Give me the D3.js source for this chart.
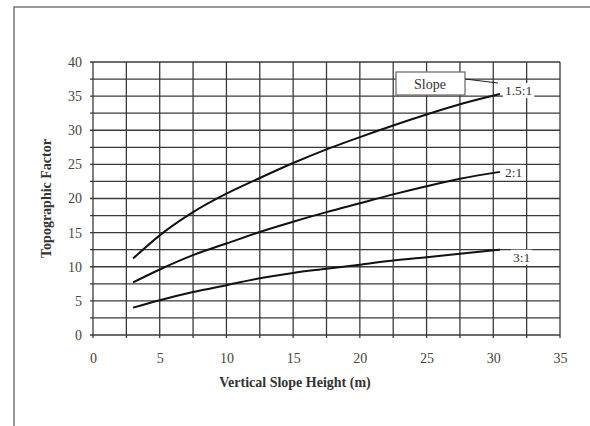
<!DOCTYPE html>
<html><head><meta charset="utf-8">
<script src="https://cdn.jsdelivr.net/npm/d3@7"></script>
<style>body{margin:0;background:#fff}svg{display:block}</style>
</head><body>
<script>
const heights = [3, 5, 7.5, 10, 12.5, 15, 17.5, 20, 22.5, 25, 27.5, 30.5];
const slope15 = [11.2, 14.6, 18.0, 20.7, 23.0, 25.2, 27.2, 29.0, 30.7, 32.3, 33.8, 35.3];
const slope2  = [7.7, 9.6, 11.7, 13.4, 15.1, 16.6, 18.0, 19.3, 20.6, 21.8, 22.9, 23.9];
const slope3  = [4.0, 5.1, 6.3, 7.3, 8.3, 9.1, 9.7, 10.3, 10.9, 11.4, 11.9, 12.5];
const seriesNames = ["1.5:1", "2:1", "3:1"];
const xTicks = [0, 5, 10, 15, 20, 25, 30, 35];
const yTicks = [0, 5, 10, 15, 20, 25, 30, 35, 40];

const W = 590, H = 426;
const svg = d3.select("body").append("svg").attr("width", W).attr("height", H);
const x = d3.scaleLinear().domain([0, 35]).range([93, 560]);
const y = d3.scaleLinear().domain([0, 40]).range([335, 62]);
const font = "'Liberation Serif', 'DejaVu Serif', serif";

// outer frame (top and left edges)
svg.append("path").attr("d", `M14,${H} L14,7 L${W},7`).attr("fill", "none")
  .attr("stroke", "#777").attr("stroke-width", 1.5);

// grid every 2.5
const gridVals = d3.range(0, 35.01, 2.5);
const gridY = d3.range(0, 40.01, 2.5);
const g = svg.append("g").attr("stroke", "#3a3a3a").attr("stroke-width", 1.3);
g.selectAll(".gv").data(gridVals).join("line")
  .attr("x1", d => x(d)).attr("x2", d => x(d))
  .attr("y1", y(40)).attr("y2", y(0) + 3);
g.selectAll(".gh").data(gridY).join("line")
  .attr("x1", x(0) - 3).attr("x2", x(35))
  .attr("y1", d => y(d)).attr("y2", d => y(d));

// axes via d3 (labels only)
const xAxis = svg.append("g").attr("transform", `translate(0,${y(0)})`)
  .call(d3.axisBottom(x).tickValues(xTicks).tickSize(0).tickPadding(18));
xAxis.select(".domain").remove();
xAxis.selectAll("text").attr("font-family", font).attr("font-size", 14).attr("fill", "#444");
const yAxis = svg.append("g").attr("transform", `translate(${x(0)},0)`)
  .call(d3.axisLeft(y).tickValues(yTicks).tickSize(0).tickPadding(11));
yAxis.select(".domain").remove();
yAxis.selectAll("text").attr("font-family", font).attr("font-size", 14).attr("fill", "#444");

// axis titles
svg.append("text").attr("x", 295).attr("y", 387).attr("text-anchor", "middle")
  .attr("font-family", font).attr("font-size", 14).attr("font-weight", "bold").attr("fill", "#333")
  .text("Vertical Slope Height (m)");
svg.append("text").attr("transform", `translate(51,${(y(0) + y(40)) / 2}) rotate(-90)`)
  .attr("text-anchor", "middle")
  .attr("font-family", font).attr("font-size", 14).attr("font-weight", "bold").attr("fill", "#333")
  .text("Topographic Factor");

// curves
const all = [slope15, slope2, slope3];
const line = d3.line().x((d, i) => x(heights[i])).y(d => y(d)).curve(d3.curveMonotoneX);
svg.selectAll(".curve").data(all).join("path")
  .attr("d", line).attr("fill", "none").attr("stroke", "#111").attr("stroke-width", 2);

// end labels
const labelDx = [5, 5, 13];
const labelDy = [1, 5, 12];
const labelG = svg.append("g");
all.forEach((s, k) => {
  const lx = x(heights[heights.length - 1]) + labelDx[k];
  const ly = y(s[s.length - 1]) + labelDy[k];
  const t = labelG.append("text").attr("x", lx).attr("y", ly)
    .attr("font-family", font).attr("font-size", 13.5).attr("fill", "#333").text(seriesNames[k]);
  const bb = t.node().getBBox();
  labelG.insert("rect", "text").attr("x", bb.x - 2).attr("y", bb.y).attr("width", bb.width + 4)
    .attr("height", bb.height).attr("fill", "#fff");
});

// "Slope" callout box
svg.append("line").attr("x1", 465).attr("y1", 79).attr("x2", 498).attr("y2", 83)
  .attr("stroke", "#222").attr("stroke-width", 1.2);
svg.append("rect").attr("x", 396).attr("y", 72).attr("width", 69).attr("height", 23)
  .attr("fill", "#fff").attr("stroke", "#666").attr("stroke-width", 1.2);
svg.append("text").attr("x", 430).attr("y", 89).attr("text-anchor", "middle")
  .attr("font-family", font).attr("font-size", 14).attr("fill", "#333").text("Slope");
</script>
</body></html>
